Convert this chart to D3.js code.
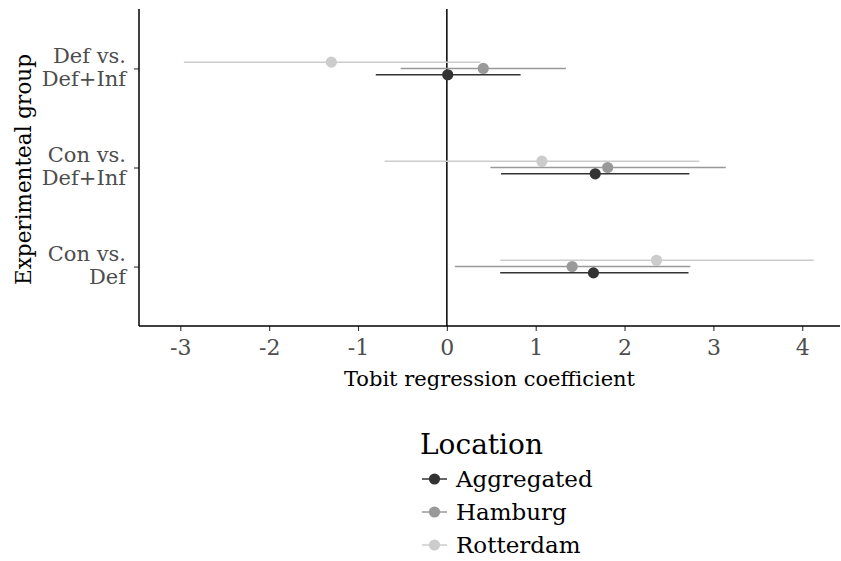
<!DOCTYPE html>
<html>
<head>
<meta charset="utf-8">
<script src="https://cdn.jsdelivr.net/npm/d3@7"></script>
<style>
  html, body { margin: 0; padding: 0; background: #fff; }
  svg { display: block; }
  svg text { font-family: "DejaVu Serif", serif !important; }
</style>
</head>
<body>
<svg id="chart" width="841" height="561"></svg>
<script>
// Comparisons (bottom to top on the y axis)
const groups = ["Con vs. Def", "Con vs. Def+Inf", "Def vs. Def+Inf"];
const groupLines = {
  "Con vs. Def": ["Con vs.", "Def"],
  "Con vs. Def+Inf": ["Con vs.", "Def+Inf"],
  "Def vs. Def+Inf": ["Def vs.", "Def+Inf"]
};
const locations = ["Aggregated", "Hamburg", "Rotterdam"];
const locationColors = ["#333333", "#999999", "#cccccc"];

// Tobit coefficients with interval bounds, one array per location,
// in the order of `groups`
const aggregatedEst = [1.65, 1.67, 0.01];
const aggregatedLo  = [0.60, 0.61, -0.80];
const aggregatedHi  = [2.72, 2.73, 0.83];

const hamburgEst = [1.41, 1.81, 0.41];
const hamburgLo  = [0.09, 0.49, -0.52];
const hamburgHi  = [2.74, 3.14, 1.34];

const rotterdamEst = [2.36, 1.07, -1.30];
const rotterdamLo  = [0.60, -0.70, -2.96];
const rotterdamHi  = [4.13, 2.84, 0.38];

const xTicks = [-3, -2, -1, 0, 1, 2, 3, 4];

const series = [
  { name: "Aggregated", est: aggregatedEst, lo: aggregatedLo, hi: aggregatedHi },
  { name: "Hamburg", est: hamburgEst, lo: hamburgLo, hi: hamburgHi },
  { name: "Rotterdam", est: rotterdamEst, lo: rotterdamLo, hi: rotterdamHi }
];

const rows = [];
series.forEach(s => groups.forEach((g, i) => {
  rows.push({ loc: s.name, group: g, est: s.est[i], lo: s.lo[i], hi: s.hi[i] });
}));

const svg = d3.select("#chart");
const panel = { left: 139, right: 840, top: 9, bottom: 326 };

const x = d3.scaleLinear().domain([-3.465, 4.425]).range([panel.left, panel.right]);
const y = d3.scalePoint().domain(groups).range([panel.bottom, panel.top]).padding(0.6);
// dodge within each comparison: Aggregated lowest, Rotterdam highest
const dodge = d3.scalePoint().domain(locations).range([6.3, -6.3]);
const color = d3.scaleOrdinal().domain(locations).range(locationColors);

// reference line at zero
svg.append("line")
  .attr("x1", x(0)).attr("x2", x(0))
  .attr("y1", panel.top).attr("y2", panel.bottom)
  .attr("stroke", "#000").attr("stroke-width", 1.5);

// draw lighter series first so darker ones sit on top
const drawOrder = ["Rotterdam", "Hamburg", "Aggregated"];
const marks = svg.append("g");
drawOrder.forEach(loc => {
  const data = rows.filter(r => r.loc === loc);
  marks.selectAll(null).data(data).enter().append("line")
    .attr("x1", d => x(d.lo)).attr("x2", d => x(d.hi))
    .attr("y1", d => y(d.group) + dodge(d.loc))
    .attr("y2", d => y(d.group) + dodge(d.loc))
    .attr("stroke", color(loc)).attr("stroke-width", 1.5);
  marks.selectAll(null).data(data).enter().append("circle")
    .attr("cx", d => x(d.est))
    .attr("cy", d => y(d.group) + dodge(d.loc))
    .attr("r", 5.6)
    .attr("fill", color(loc));
});

// x axis
const xAxis = svg.append("g")
  .attr("transform", `translate(0,${panel.bottom})`)
  .call(d3.axisBottom(x).tickValues(xTicks).tickFormat(d3.format("d")).tickSizeOuter(0).tickSize(5));
xAxis.select(".domain").remove();
xAxis.append("line")
  .attr("x1", panel.left).attr("x2", panel.right)
  .attr("stroke", "#000").attr("stroke-width", 1.5);
xAxis.selectAll(".tick line").attr("stroke", "#333").attr("stroke-width", 1.1);
xAxis.selectAll(".tick text")
  .attr("y", 29).attr("dy", null)
  .attr("fill", "#4d4d4d").style("font-size", "22px")
  .text(d => d < 0 ? "-" + Math.abs(d) : String(d));

// y axis
const yAxis = svg.append("g")
  .attr("transform", `translate(${panel.left},0)`)
  .call(d3.axisLeft(y).tickSize(5).tickSizeOuter(0).tickFormat(() => ""));
yAxis.select(".domain").remove();
yAxis.append("line")
  .attr("y1", panel.top).attr("y2", panel.bottom)
  .attr("stroke", "#000").attr("stroke-width", 1.5);
yAxis.selectAll(".tick line").attr("stroke", "#333").attr("stroke-width", 1.1);
yAxis.selectAll(".tick").each(function(g) {
  d3.select(this).selectAll(".lbl").data(groupLines[g]).enter().append("text")
    .attr("class", "lbl")
    .attr("x", -13).attr("text-anchor", "end")
    .attr("y", (d, i) => i === 0 ? -6 : 17)
    .attr("fill", "#4d4d4d").style("font-size", "21px")
    .text(d => d);
});

// axis titles
svg.append("text")
  .attr("x", (panel.left + panel.right) / 2).attr("y", 386)
  .attr("text-anchor", "middle").attr("fill", "#000")
  .style("font-size", "21px")
  .text("Tobit regression coefficient");

svg.append("text")
  .attr("transform", `translate(31,${(panel.top + panel.bottom) / 2 + 2}) rotate(-90)`)
  .attr("text-anchor", "middle").attr("fill", "#000")
  .style("font-size", "21.5px")
  .text("Experimenteal group");

// legend
const legend = svg.append("g").attr("transform", "translate(420,0)");
legend.append("text")
  .attr("x", 0).attr("y", 454)
  .style("font-size", "28px").attr("fill", "#000")
  .text("Location");
const keyY = d3.scalePoint().domain(locations).range([479, 545]);
const items = legend.selectAll(".item").data(locations).enter().append("g")
  .attr("transform", d => `translate(0,${keyY(d)})`);
items.append("line")
  .attr("x1", 2).attr("x2", 27)
  .attr("stroke", d => color(d)).attr("stroke-width", 1.5);
items.append("circle")
  .attr("cx", 14.5).attr("r", 5.6)
  .attr("fill", d => color(d));
items.append("text")
  .attr("x", 36).attr("y", 8)
  .style("font-size", "23px").attr("fill", "#000")
  .text(d => d);
</script>
</body>
</html>
